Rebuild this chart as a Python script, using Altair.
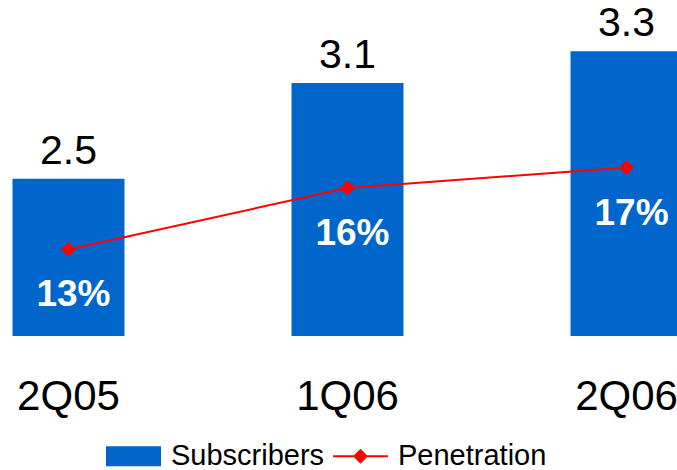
import altair as alt
import pandas as pd

# Quarterly subscribers (millions) and household penetration (%)
quarters = ["2Q05", "1Q06", "2Q06"]
subscribers = [2.5, 3.1, 3.3]
penetration = [13, 16, 17]
series = ["Subscribers", "Penetration"]

FONT = "Liberation Sans"
BLUE = "#0066CC"
RED = "#FF0000"

df = pd.DataFrame({
    "quarter": quarters,
    "subscribers": subscribers,
    "penetration": penetration,
})
legend_df = pd.DataFrame({"series": series})

base = alt.Chart(df)

x = alt.X(
    "quarter:N",
    sort=quarters,
    scale=alt.Scale(range=[0, 695], paddingInner=0.5986, paddingOuter=0.0448),
    axis=alt.Axis(
        title=None, labelAngle=0, domain=False, ticks=False, grid=False,
        labelFontSize=42, labelFont=FONT, labelColor="black", labelPadding=40,
    ),
)
# Truncated value axis: bars start from the bottom edge of the plot
y_sub = alt.Y("subscribers:Q",
              scale=alt.Scale(domain=[1.513, 3.621], zero=False, nice=False,
                              clamp=True),
              axis=None)
y_pen = alt.Y("penetration:Q",
              scale=alt.Scale(domain=[8.768, 25.19], zero=False, nice=False),
              axis=None)

bars = base.mark_bar(color=BLUE).encode(x=x, y=y_sub)

bar_labels = base.mark_text(
    baseline="alphabetic", dy=-15, fontSize=41, font=FONT, color="black"
).encode(x=x, y=y_sub, text=alt.Text("subscribers:Q", format=".1f"))

line = base.mark_line(color=RED, strokeWidth=2).encode(x=x, y=y_pen)

points = base.mark_point(
    shape="diamond", filled=True, color=RED, size=220, opacity=1
).encode(x=x, y=y_pen)

pen_labels = base.transform_calculate(
    label="datum.penetration + '%'"
).mark_text(
    baseline="alphabetic", dy=57, dx=5, fontSize=37, fontWeight="bold",
    font=FONT, color="white"
).encode(x=x, y=y_pen, text="label:N")

# Legend symbols: a wide blue block and a red line with a diamond marker
rect_path = "M-1,-0.364H1V0.364H-1Z"
line_path = "M-1,-0.036H1V0.036H-1Z M-0.27,0L0,-0.27L0.27,0L0,0.27Z"

legend_def = alt.Legend(
    title=None, orient="none", legendX=106, legendY=428.5,
    direction="horizontal", labelFontSize=29, labelFont=FONT,
    labelColor="black", symbolSize=3025, symbolOpacity=1,
    symbolStrokeWidth=0, labelOffset=10, columnPadding=8, padding=0,
)
legend_layer = alt.Chart(legend_df).mark_point(opacity=0, filled=True).encode(
    color=alt.Color("series:N", sort=series,
                    scale=alt.Scale(domain=series, range=[BLUE, RED]),
                    legend=legend_def),
    shape=alt.Shape("series:N", sort=series,
                    scale=alt.Scale(domain=series, range=[rect_path, line_path]),
                    legend=legend_def),
)

chart = alt.layer(
    bars, bar_labels, line, points, pen_labels, legend_layer
).resolve_scale(
    y="independent"
).properties(
    width=677, height=336,
    autosize=alt.AutoSizeParams(type="none"),
    padding={"left": 0, "top": 0, "right": 0, "bottom": 134},
    background="white",
).configure_view(stroke=None)

chart.save("out.html", embed_options={"renderer": "svg", "actions": False})
